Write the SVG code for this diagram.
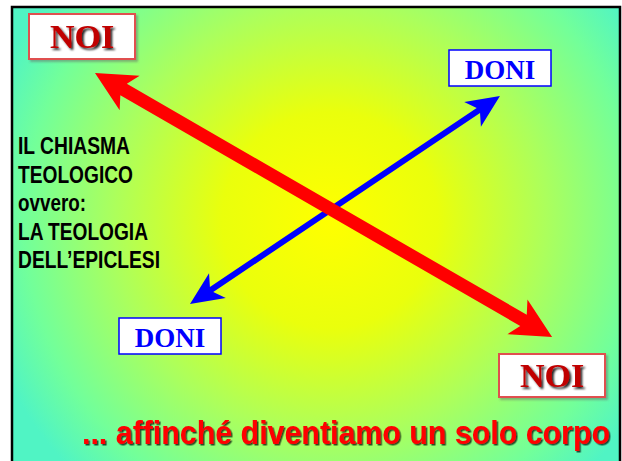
<svg xmlns="http://www.w3.org/2000/svg" width="622" height="461" viewBox="0 0 622 461">
<defs>
<radialGradient id="bg" cx="330" cy="220" r="360" gradientUnits="userSpaceOnUse">
<stop offset="0" stop-color="#ffff00"/>
<stop offset="0.3" stop-color="#eaff0c"/>
<stop offset="0.6" stop-color="#acff5c"/>
<stop offset="0.85" stop-color="#72ff9a"/>
<stop offset="1" stop-color="#50f4c4"/>
</radialGradient>
<filter id="tsh" filterUnits="userSpaceOnUse" x="0" y="0" width="622" height="461"><feDropShadow dx="2" dy="2" stdDeviation="0.8" flood-color="#000" flood-opacity="0.85"/></filter>
<filter id="bsh" filterUnits="userSpaceOnUse" x="0" y="0" width="622" height="461"><feDropShadow dx="1.5" dy="1.5" stdDeviation="0.6" flood-color="#000" flood-opacity="0.7"/></filter>
<filter id="rsh" filterUnits="userSpaceOnUse" x="0" y="0" width="622" height="461"><feDropShadow dx="2" dy="2" stdDeviation="1" flood-color="#666" flood-opacity="0.5"/></filter>
</defs>
<style>
.noi{font-family:"Liberation Serif","Times New Roman",serif;font-weight:bold;font-size:34px;text-anchor:middle;fill:#c00000}
.doni{font-family:"Liberation Serif","Times New Roman",serif;font-weight:bold;font-size:27px;fill:#0000ff;text-anchor:middle}
.lt{font-family:"Liberation Sans",Arial,sans-serif;font-weight:bold;font-size:23px;fill:#000}
.bt{font-family:"Liberation Sans",Arial,sans-serif;font-weight:bold;font-size:33px;fill:#ff0000}
.nbox{fill:#fff;stroke:#e05050;stroke-width:2}
.dbox{fill:#fff;stroke:#0000ff;stroke-width:1.5}
</style>
<rect x="0" y="0" width="622" height="461" fill="#fff"/>
<rect x="12" y="7" width="608" height="460" fill="url(#bg)" stroke="#000" stroke-width="2.5"/>

<g id="connectors">
<polygon id="blue-arrow" fill="#0000ff" transform="translate(190,304) rotate(-33.87)" points="0,0 33,-15 26,-3 347.3,-3 340.3,-15 373.3,0 340.3,15 347.3,3 26,3 33,15"/>
<polygon id="red-arrow" fill="#ff0000" transform="translate(95,73) rotate(30)" points="0,0 40,-20 33,-6.5 494.8,-6.5 487.8,-20 527.8,0 487.8,20 494.8,6.5 33,6.5 40,20"/>
</g>

<g id="noi-top">
<rect class="nbox" x="29" y="14" width="106" height="45" filter="url(#rsh)"/>
<text class="noi" x="82" y="48" filter="url(#tsh)">NOI</text>
</g>

<g id="doni-top">
<rect class="dbox" x="449" y="50" width="102" height="36"/>
<text class="doni" x="500" y="79">DONI</text>
</g>

<g id="doni-bottom">
<rect class="dbox" x="119" y="318" width="102" height="36"/>
<text class="doni" x="170" y="347">DONI</text>
</g>

<g id="noi-bottom">
<rect class="nbox" x="499" y="354" width="106" height="43" filter="url(#rsh)"/>
<text class="noi" x="552" y="387" filter="url(#tsh)">NOI</text>
</g>

<g id="label-left">
<text class="lt" x="18" y="154" textLength="112" lengthAdjust="spacingAndGlyphs">IL CHIASMA</text>
<text class="lt" x="18" y="183" textLength="115" lengthAdjust="spacingAndGlyphs">TEOLOGICO</text>
<text class="lt" x="18" y="211" textLength="68" lengthAdjust="spacingAndGlyphs">ovvero:</text>
<text class="lt" x="18" y="240" textLength="130" lengthAdjust="spacingAndGlyphs">LA TEOLOGIA</text>
<text class="lt" x="18" y="268" textLength="142" lengthAdjust="spacingAndGlyphs">DELL’EPICLESI</text>
</g>

<g id="caption">
<text class="bt" x="82" y="444" filter="url(#bsh)" textLength="528" lengthAdjust="spacingAndGlyphs">... affinché diventiamo un solo corpo</text>
</g>
</svg>
